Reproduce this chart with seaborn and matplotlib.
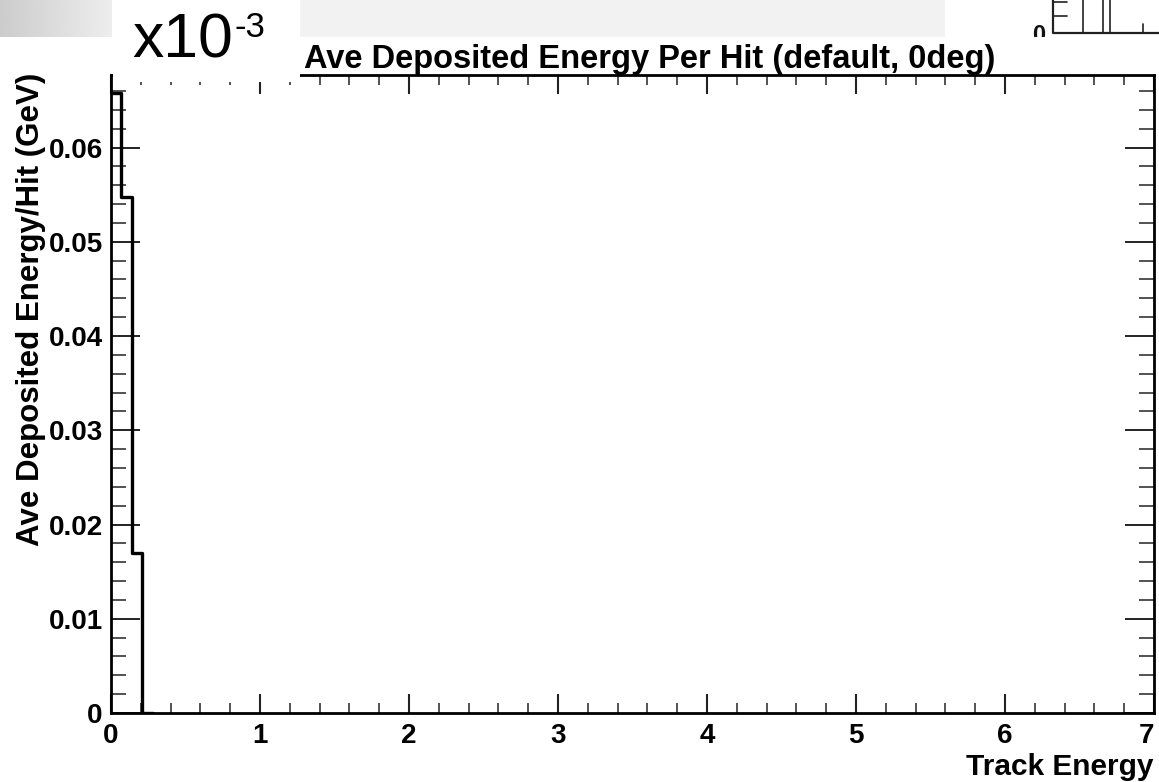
import numpy as np
import matplotlib
matplotlib.use("Agg")
import matplotlib.pyplot as plt
from matplotlib.ticker import MultipleLocator, FixedLocator, FixedFormatter
from matplotlib.patches import Rectangle
import seaborn as sns

# Histogram contents: average deposited energy per hit, 0.07-wide track-energy bins
bin_edges = [0.0, 0.07, 0.14, 0.21, 0.28]
avg_energy = [0.0658, 0.0548, 0.0170, 0.0]

x_ticks = [0, 1, 2, 3, 4, 5, 6, 7]
x_tick_labels = ["0", "1", "2", "3", "4", "5", "6", "7"]
y_ticks = [0.0, 0.01, 0.02, 0.03, 0.04, 0.05, 0.06]
y_tick_labels = ["0", "0.01", "0.02", "0.03", "0.04", "0.05", "0.06"]

title = "Ave Deposited Energy Per Hit (default, 0deg)"
x_label = "Track Energy"
y_label = "Ave Deposited Energy/Hit (GeV)"

sns.set_theme(style="white")
plt.rcParams["font.family"] = ["Liberation Sans", "DejaVu Sans"]
plt.rcParams["font.weight"] = "bold"
plt.rcParams["text.color"] = "black"
plt.rcParams["axes.labelcolor"] = "black"
plt.rcParams["xtick.labelcolor"] = "black"
plt.rcParams["ytick.labelcolor"] = "black"

W, H = 1159, 782
fig = plt.figure(figsize=(W / 100, H / 100), dpi=100)
fig.patch.set_facecolor("white")

# background layer in pixel coordinates (slide fragments behind the plot)
bg = fig.add_axes([0, 0, 1, 1], zorder=0)
bg.set_xlim(0, W)
bg.set_ylim(H, 0)
bg.axis("off")
grad = np.linspace(0.80, 0.93, 64)[None, :]
bg.imshow(grad, cmap="gray", vmin=0, vmax=1, extent=[0, 112, 37, 0], aspect="auto")
bg.add_patch(Rectangle((300, 0), 645, 37, facecolor="#f2f2f2", edgecolor="none"))
# corner of a neighbouring frame at the top right
bg.plot([1053, 1053, 1159], [0, 33, 33], color="#222222", lw=1.6)
for yy in (2, 16):
    bg.plot([1053, 1067], [yy, yy], color="#222222", lw=1.2)
for xx in (1083, 1103, 1110):
    bg.plot([xx, xx], [0, 33], color="#222222", lw=1.2)
bg.plot([1143, 1143], [24, 33], color="#222222", lw=1.2)
bg.text(1039, 24, "0", fontsize=17, fontweight="bold", ha="center", va="top", color="#111111")
bg.add_patch(Rectangle((1000, 37), 159, 36, facecolor="white", edgecolor="none", zorder=5))

# main histogram axes
left, right, top, bottom = 111, 1154, 75, 713
ax = fig.add_axes([left / W, 1 - bottom / H, (right - left) / W, (bottom - top) / H], zorder=1)
ax.set_facecolor("white")

centers = [(a + b) / 2 for a, b in zip(bin_edges[:-1], bin_edges[1:])]
sns.histplot(x=centers, weights=avg_energy, bins=bin_edges, element="step",
             fill=False, color="black", linewidth=2.4, ax=ax)

ax.set_xlim(0, 7)
ax.set_ylim(0, 0.0677)

ax.xaxis.set_major_locator(FixedLocator(x_ticks))
ax.xaxis.set_major_formatter(FixedFormatter(x_tick_labels))
ax.xaxis.set_minor_locator(MultipleLocator(0.2))
ax.yaxis.set_major_locator(FixedLocator(y_ticks))
ax.yaxis.set_major_formatter(FixedFormatter(y_tick_labels))
ax.yaxis.set_minor_locator(MultipleLocator(0.002))

for s in ax.spines.values():
    s.set_color("black")
    s.set_linewidth(2.0)

ax.tick_params(which="both", direction="in", top=True, right=True,
               bottom=True, left=True, color="#222222")
ax.tick_params(axis="x", which="major", length=13.5, width=1.5, pad=7, labelsize=20)
ax.tick_params(axis="x", which="minor", length=7, width=1.3, color="#444444")
ax.tick_params(axis="y", which="major", length=21, width=1.4, pad=6, labelsize=20)
ax.tick_params(axis="y", which="minor", length=10.5, width=1.3, color="#444444")
fig.canvas.draw()
xlabels = ax.get_xticklabels()
for lab in xlabels + ax.get_yticklabels():
    lab.set_fontweight("bold")
    lab.set_color("black")
xlabels[-1].set_horizontalalignment("right")

ax.set_xlabel(x_label, fontsize=21.5, fontweight="bold", ha="right", va="top")
ax.xaxis.set_label_coords(1.0, -0.062)
ax.set_ylabel(y_label, fontsize=22.5, fontweight="bold", ha="center", va="center")
ax.yaxis.set_label_coords(-0.077, 0.633)

ax.set_title(title, fontsize=23.5, fontweight="bold", x=0.5168, y=1.011,
             va="baseline", pad=0, color="black")

# exponent box overlapping the top-left of the frame
ov = fig.add_axes([0, 0, 1, 1], zorder=3)
ov.set_xlim(0, W)
ov.set_ylim(H, 0)
ov.axis("off")
ov.patch.set_alpha(0)
ov.add_patch(Rectangle((113, 0), 187, 82, facecolor="white", edgecolor="none"))
ov.text(132, 57, "x10", fontsize=45, fontweight="normal", ha="left", va="baseline", color="black")
ov.text(234, 37, "-3", fontsize=25, fontweight="normal", ha="left", va="baseline", color="black")

fig.savefig("out.png", dpi=100)
